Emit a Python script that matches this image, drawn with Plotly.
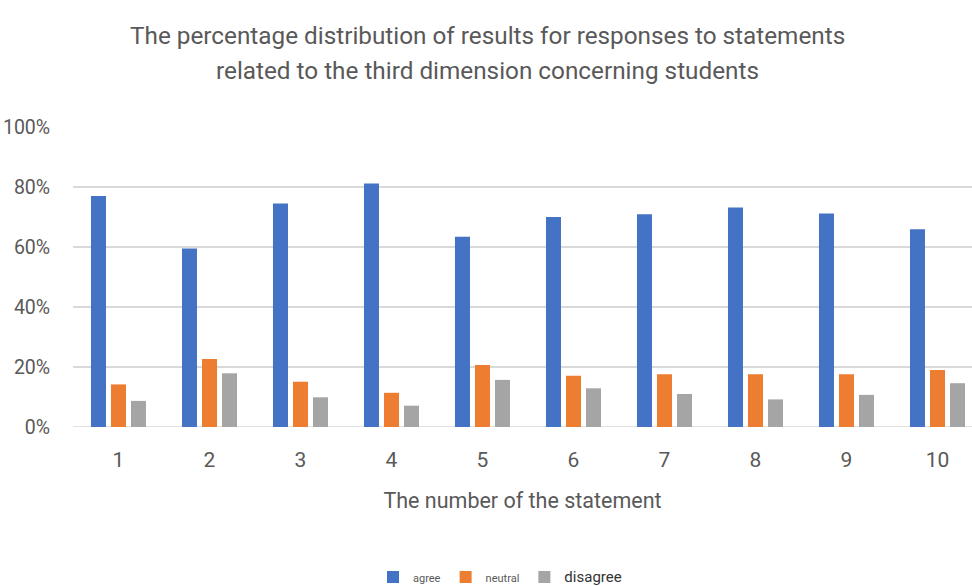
import plotly.graph_objects as go

categories = [1, 2, 3, 4, 5, 6, 7, 8, 9, 10]
agree = [0.77, 0.595, 0.745, 0.812, 0.634, 0.70, 0.709, 0.732, 0.712, 0.659]
neutral = [0.142, 0.227, 0.151, 0.114, 0.207, 0.171, 0.176, 0.176, 0.176, 0.19]
disagree = [0.087, 0.179, 0.099, 0.071, 0.157, 0.129, 0.11, 0.092, 0.107, 0.146]
series_names = ["agree", "neutral", "disagree"]
colors = ["#4472C4", "#ED7D31", "#A5A5A5"]
title_lines = ["The percentage distribution of results for responses to statements",
               "related to the third dimension concerning students"]
x_title = "The number of the statement"
y_ticks = [0, 0.2, 0.4, 0.6, 0.8, 1.0]

FONT = "Roboto, sans-serif"
TXT = "#595959"

# plot area in pixels: x 73..972, y 127..427
def px_x(px):
    return (px - 73) / 899

def px_y(py):
    return (427 - py) / 300

legend_names = [
    "<span style='font-size:11px'>agree</span>",
    "<span style='font-size:11px'>neutral</span>",
    "<span style='font-size:15px;fill:#333333'>disagree</span>",
]

fig = go.Figure()
for vals, nm, ln, c in zip([agree, neutral, disagree], series_names, legend_names, colors):
    fig.add_trace(go.Bar(x=categories, y=vals, name=ln, marker_color=c,
                         marker_line_width=0, hovertext=nm))

fig.add_annotation(text=title_lines[0], xref="paper", yref="paper",
                   x=px_x(487), y=px_y(35), xanchor="center", yanchor="middle",
                   showarrow=False, font=dict(family=FONT, size=24.3, color=TXT))
fig.add_annotation(text=title_lines[1], xref="paper", yref="paper",
                   x=px_x(487), y=px_y(70), xanchor="center", yanchor="middle",
                   showarrow=False, font=dict(family=FONT, size=24.3, color=TXT))

fig.update_layout(
    width=972, height=586,
    margin=dict(l=73, r=0, t=127, b=159),
    paper_bgcolor="white", plot_bgcolor="white",
    barmode="group", bargap=0.34, bargroupgap=0.25,
    font=dict(family=FONT, color=TXT),
    showlegend=True,
    legend=dict(orientation="h", xref="container", yref="container",
                x=500 / 972, y=(586 - 577) / 586, xanchor="center", yanchor="middle",
                font=dict(family=FONT, size=12, color=TXT), traceorder="normal"),
    xaxis=dict(range=[0.5, 0.5 + 899 / 91], tickvals=categories,
               ticktext=[str(c) for c in categories], showgrid=False,
               ticks="outside", ticklen=14, tickcolor="rgba(0,0,0,0)",
               tickfont=dict(size=21, color=TXT), zeroline=False,
               showline=False,
               title=dict(text=x_title, font=dict(size=21.5, color=TXT), standoff=21)),
    yaxis=dict(range=[0, 1.0], tickvals=y_ticks, tickformat=".0%",
               showgrid=True, gridcolor="#D9D9D9", gridwidth=1.5,
               zeroline=False, showline=False,
               ticks="outside", ticklen=18, tickcolor="rgba(0,0,0,0)",
               tickfont=dict(size=19.5, color=TXT)),
)
fig.add_shape(type="line", xref="paper", yref="y", x0=0, x1=1, y0=0, y1=0,
              line=dict(color="#D9D9D9", width=1.5), layer="below")

fig.write_html("out.html")
